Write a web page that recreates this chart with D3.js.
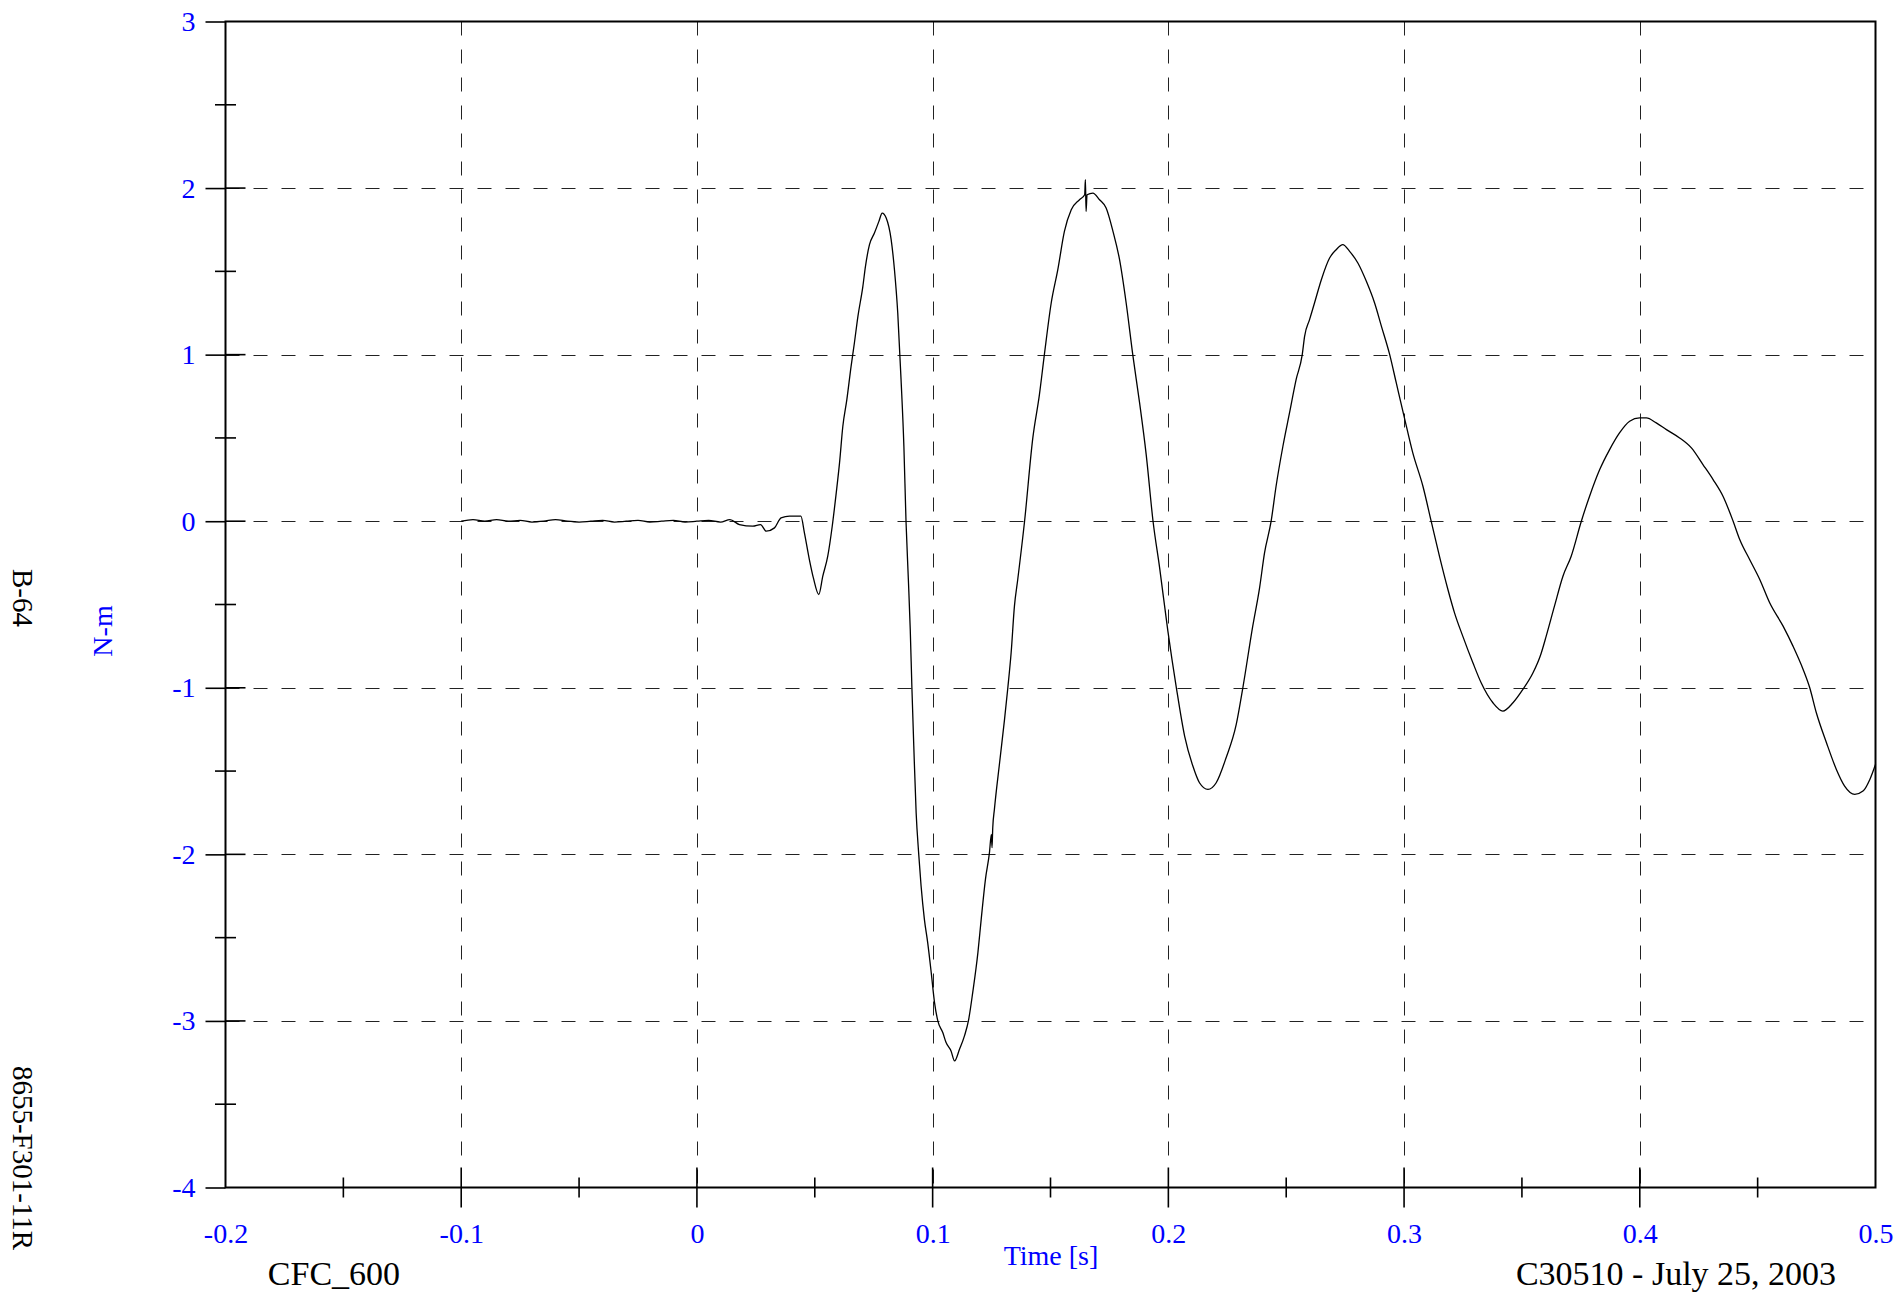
<!DOCTYPE html>
<html><head><meta charset="utf-8">
<script src="https://cdn.jsdelivr.net/npm/d3@7"></script>
<style>html,body{margin:0;padding:0;background:#fff;} svg{display:block;}</style>
</head><body>
<svg id="chart" width="1902" height="1298"></svg>
<script>
// ---- data ----
const timeS = [
-0.100,-0.095,-0.090,-0.085,-0.080,-0.075,-0.070,-0.065,-0.060,-0.055,-0.050,-0.045,-0.040,-0.035,-0.030,-0.025,-0.020,-0.015,-0.010,-0.005,
0.000,0.005,0.010,0.014,0.018,0.0237,0.027,0.0294,0.0329,0.0357,0.0393,0.0441,0.0456,0.0477,0.0494,0.0517,0.0534,0.0555,0.0574,0.0591,
0.0605,0.0619,0.0636,0.0654,0.0668,0.0683,0.0704,0.0715,0.0732,0.0753,0.0772,0.0786,0.0803,0.0824,0.0838,0.0852,0.0866,0.0878,0.0887,0.0897,
0.0905,0.0912,0.0920,0.0930,0.0941,0.0951,0.0965,0.0979,0.0994,0.1008,0.1022,0.1043,0.1057,0.1078,0.1093,0.1114,0.1135,0.1153,0.1170,0.1192,
0.1206,0.1224,0.1241,0.1249,0.1252,0.1255,0.1262,0.1284,0.1305,0.1319,0.1333,0.1347,0.1361,0.1390,0.1425,0.1453,0.1474,0.1503,0.1531,0.1559,
0.1588,0.1623,0.1645,0.1648,0.1651,0.1655,0.1680,0.1708,0.1736,0.1765,0.1793,0.1821,0.1849,0.1878,0.1906,0.1935,0.1963,0.1998,0.2034,0.2069,
0.2104,0.2132,0.2168,0.2203,0.2245,0.2288,0.2316,0.2358,0.2387,0.2408,0.2436,0.2457,0.2486,0.2514,0.2542,0.2568,0.2578,0.2599,0.2620,0.2649,
0.2684,0.2712,0.2740,0.2769,0.2804,0.2840,0.2875,0.2904,0.2939,0.2967,0.3000,0.3037,0.3080,0.3115,0.3150,0.3186,0.3214,0.3249,0.3292,0.3327,
0.3377,0.3419,0.3462,0.3504,0.3547,0.3580,0.3603,0.3638,0.3674,0.3709,0.3752,0.3787,0.3830,0.3872,0.3914,0.3957,0.3999,0.4028,0.4070,0.4113,
0.4169,0.4219,0.4268,0.4311,0.4353,0.4396,0.4424,0.4466,0.4509,0.4551,0.4608,0.4650,0.4693,0.4721,0.4749,0.4792,0.4834,0.4869,0.4912,0.4947,
0.4976,0.5000
];
const momentNm = [
0.00,0.01,0.00,0.01,0.00,0.005,-0.005,0.00,0.01,0.00,-0.005,0.00,0.005,-0.005,0.00,0.005,-0.005,0.00,0.005,-0.005,
0.00,0.005,-0.005,0.01,-0.02,-0.03,-0.02,-0.06,-0.04,0.02,0.03,0.03,-0.07,-0.23,-0.34,-0.44,-0.33,-0.21,-0.03,0.17,
0.35,0.57,0.73,0.93,1.07,1.23,1.41,1.53,1.66,1.73,1.80,1.85,1.82,1.69,1.51,1.25,0.85,0.45,0.00,-0.35,
-0.65,-1.00,-1.35,-1.75,-2.00,-2.19,-2.39,-2.53,-2.71,-2.89,-3.00,-3.07,-3.13,-3.18,-3.24,-3.17,-3.09,-2.99,-2.83,-2.59,
-2.39,-2.15,-1.99,-1.88,-1.96,-1.84,-1.73,-1.45,-1.19,-1.00,-0.79,-0.51,-0.35,0.00,0.50,0.76,1.00,1.31,1.51,1.74,
1.87,1.93,1.96,2.05,1.86,1.96,1.97,1.93,1.88,1.74,1.57,1.31,1.00,0.71,0.40,0.00,-0.28,-0.66,-1.00,-1.29,
-1.47,-1.57,-1.61,-1.57,-1.42,-1.22,-1.00,-0.63,-0.40,-0.19,0.00,0.21,0.45,0.65,0.85,1.00,1.11,1.21,1.31,1.45,
1.58,1.63,1.66,1.62,1.55,1.44,1.31,1.17,1.00,0.83,0.63,0.41,0.21,0.00,-0.21,-0.41,-0.55,-0.69,-0.85,-0.97,
-1.09,-1.14,-1.09,-1.01,-0.91,-0.80,-0.69,-0.51,-0.33,-0.21,0.00,0.15,0.31,0.43,0.53,0.60,0.62,0.62,0.59,0.55,
0.50,0.44,0.34,0.25,0.15,0.00,-0.11,-0.23,-0.35,-0.49,-0.63,-0.75,-0.89,-1.00,-1.15,-1.33,-1.49,-1.59,-1.64,-1.62,
-1.55,-1.46
];
const xTickValues = [-0.2,-0.1,0,0.1,0.2,0.3,0.4,0.5];
const xTickLabels = ["-0.2","-0.1","0","0.1","0.2","0.3","0.4","0.5"];
const xMinorTicks = [-0.15,-0.05,0.05,0.15,0.25,0.35,0.45];
const yTickValues = [-4,-3,-2,-1,0,1,2,3];
const yTickLabels = ["-4","-3","-2","-1","0","1","2","3"];
const yMinorTicks = [-3.5,-2.5,-1.5,-0.5,0.5,1.5,2.5];

const xLabel = "Time [s]";
const yLabel = "N-m";
const leftTopNote = "B-64";
const leftBottomNote = "8655-F301-11R";
const bottomLeftNote = "CFC_600";
const bottomRightNote = "C30510 - July 25, 2003";

// ---- layout ----
const W = 1902, H = 1298;
const L = 225.5, R = 1875.5, T = 21.5, B = 1187.5;
const serif = "'Liberation Serif','Times New Roman',Times,serif";
const BLUE = "#0000ff";

const svg = d3.select("#chart");
const x = d3.scaleLinear().domain([-0.2, 0.5]).range([L, R]);
const y = d3.scaleLinear().domain([-4, 3]).range([B, T]);

// grid
const grid = svg.append("g").attr("stroke", "#222").attr("stroke-width", 1).attr("stroke-dasharray", "14,14").attr("fill","none");
grid.selectAll("line.v").data(xTickValues.slice(1, -1)).join("line").attr("class","v")
  .attr("x1", d => Math.round(x(d)) + 0.5).attr("x2", d => Math.round(x(d)) + 0.5)
  .attr("y1", T).attr("y2", B);
grid.selectAll("line.h").data(yTickValues.slice(1, -1)).join("line").attr("class","h")
  .attr("x1", L).attr("x2", R)
  .attr("y1", d => Math.round(y(d)) + 0.5).attr("y2", d => Math.round(y(d)) + 0.5);

// y axis (labels + outward major ticks)
const yAxis = d3.axisLeft(y).tickValues(yTickValues)
  .tickFormat((d, i) => yTickLabels[i]).tickSizeInner(20).tickSizeOuter(0).tickPadding(10);
const gy = svg.append("g").attr("transform", `translate(${L},0)`).call(yAxis);
gy.select(".domain").remove();
gy.selectAll(".tick line").attr("stroke", "#000").attr("stroke-width", 1.6);
gy.selectAll(".tick text").attr("fill", BLUE).attr("font-family", serif).attr("font-size", 28);

// inward part of y major ticks and minor ticks
const tk = svg.append("g").attr("stroke", "#000").attr("stroke-width", 1.6);
tk.selectAll("line.yin").data(yTickValues.slice(1, -1)).join("line")
  .attr("x1", L).attr("x2", L + 20).attr("y1", d => y(d)).attr("y2", d => y(d));
tk.selectAll("line.ymin").data(yMinorTicks).join("line")
  .attr("x1", L - 10.5).attr("x2", L + 10.5).attr("y1", d => y(d)).attr("y2", d => y(d));

// x axis (labels only through axis, ticks drawn crossing)
const xAxis = d3.axisBottom(x).tickValues(xTickValues)
  .tickFormat((d, i) => xTickLabels[i]).tickSizeInner(0).tickSizeOuter(0).tickPadding(36);
const gx = svg.append("g").attr("transform", `translate(0,${B})`).call(xAxis);
gx.select(".domain").remove();
gx.selectAll(".tick line").remove();
gx.selectAll(".tick text").attr("fill", BLUE).attr("font-family", serif).attr("font-size", 28);
tk.selectAll("line.xmaj").data(xTickValues.slice(1, -1)).join("line")
  .attr("x1", d => x(d)).attr("x2", d => x(d)).attr("y1", B - 20).attr("y2", B + 20);
tk.selectAll("line.xmin").data(xMinorTicks).join("line")
  .attr("x1", d => x(d)).attr("x2", d => x(d)).attr("y1", B - 10).attr("y2", B + 10);

// frame
svg.append("rect").attr("x", L).attr("y", T).attr("width", R - L).attr("height", B - T)
  .attr("fill", "none").attr("stroke", "#000").attr("stroke-width", 2);

// data line
const pts = timeS.map((t, i) => [t, momentNm[i]]);
const line = d3.line().x(d => x(d[0])).y(d => y(d[1])).curve(d3.curveMonotoneX);
svg.append("path").datum(pts).attr("d", line)
  .attr("fill", "none").attr("stroke", "#000").attr("stroke-width", 1.3).attr("stroke-linejoin","round");

// texts
svg.append("text").attr("x", 1051).attr("y", 1265).attr("text-anchor", "middle")
  .attr("font-family", serif).attr("font-size", 28).attr("fill", BLUE).text(xLabel);
svg.append("text").attr("transform", "translate(102,631) rotate(-90)").attr("text-anchor", "middle")
  .attr("dominant-baseline", "central")
  .attr("font-family", serif).attr("font-size", 28).attr("fill", BLUE).text(yLabel);
svg.append("text").attr("transform", "translate(23,598) rotate(90)").attr("text-anchor", "middle")
  .attr("dominant-baseline", "central")
  .attr("font-family", serif).attr("font-size", 29).attr("fill", "#000").text(leftTopNote);
svg.append("text").attr("transform", "translate(23,1158) rotate(90)").attr("text-anchor", "middle")
  .attr("dominant-baseline", "central")
  .attr("font-family", serif).attr("font-size", 29).attr("fill", "#000").text(leftBottomNote);
svg.append("text").attr("x", 334).attr("y", 1285).attr("text-anchor", "middle")
  .attr("font-family", serif).attr("font-size", 34).attr("fill", "#000").text(bottomLeftNote);
svg.append("text").attr("x", 1676).attr("y", 1285).attr("text-anchor", "middle")
  .attr("font-family", serif).attr("font-size", 34).attr("fill", "#000").text(bottomRightNote);
</script>
</body></html>
